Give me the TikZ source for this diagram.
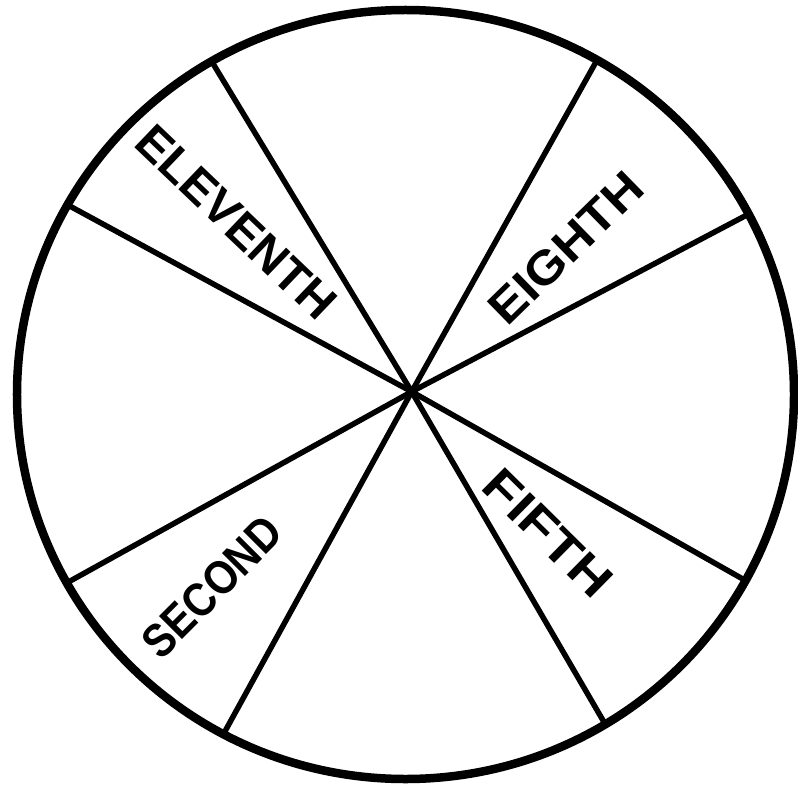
\documentclass[tikz,border=0pt]{standalone}
\usepackage{fontspec}
\setmainfont{Liberation Sans}
\begin{document}
\begin{tikzpicture}[x=1bp,y=-1bp,
  spoke/.style={line width=5.5bp,line cap=round},
  rim/.style={line width=8.5bp},
  label/.style={inner sep=0pt,font=\bfseries}]
\useasboundingbox (0,0) rectangle (798,789);
\coordinate (O) at (405.5,394.5);
\coordinate (X) at (411.7,391.7);
\begin{scope}
  \clip (O) ellipse [x radius=388.5bp, y radius=384.5bp];
  \foreach \a in {-121.2,59.8,-60.8,118.8,-27.8,151,-151.5,29.5}
    \draw[spoke] (X) -- ++(\a:520);
\end{scope}
\draw[rim] (O) ellipse [x radius=388.5bp, y radius=384.5bp];
\node[label,rotate=-43.7] (eleventh) at (236,222) {\resizebox{256bp}{33bp}{ELEVENTH}};
\node[label,rotate=44.3] (eighth) at (566,248) {\resizebox{195bp}{33bp}{EIGHTH}};
\node[label,rotate=-44.6] (fifth) at (548,533) {\resizebox{159bp}{33bp}{FIFTH}};
\node[label,rotate=45.1] (second) at (212,587) {\resizebox{177bp}{33bp}{SECOND}};
\end{tikzpicture}
\end{document}
